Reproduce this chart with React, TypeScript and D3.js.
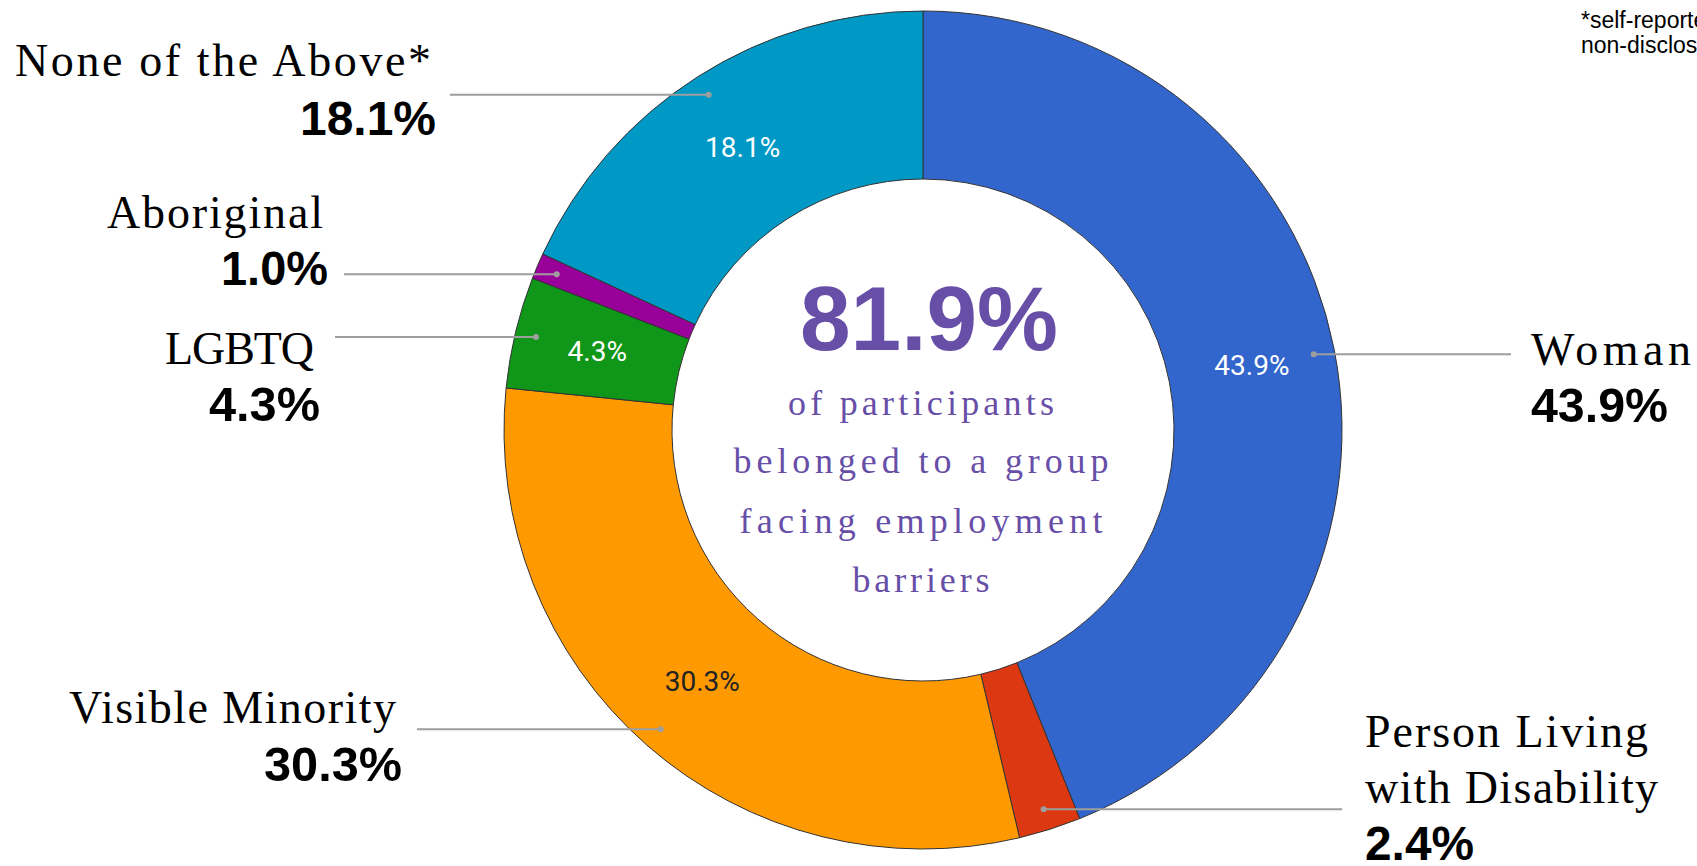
import React from "react";
import * as d3 from "d3";

const categories = ["Woman", "Person Living with Disability", "Visible Minority", "LGBTQ", "Aboriginal", "None of the Above*"];
const values = [43.9, 2.4, 30.3, 4.3, 1.0, 18.1];
const nameLines = [["Woman"], ["Person Living", "with Disability"], ["Visible Minority"], ["LGBTQ"], ["Aboriginal"], ["None of the Above*"]];
const colors = ["#3366cc", "#dc3912", "#ff9900", "#109618", "#990099", "#0099c6"];
const innerLabelColors = ["#ffffff", null, "#222222", "#ffffff", null, "#ffffff"];
const centerValue = "81.9%";
const centerLines = ["of participants", "belonged to a group", "facing employment", "barriers"];
const noteLines = ["*self-reported", "non-disclosure"];

// layout of the external labels (positions only)
type Lay = {
  side: "left" | "right";
  lineEnd: number;
  nameX: number; // left edge for right-side, right edge for left-side
  nameY: number[];
  nameW: number[];
  pctX: number;
  pctY: number;
  pctW: number;
};
const layout: Lay[] = [
  { side: "right", lineEnd: 1511, nameX: 1531, nameY: [365], nameW: [160], pctX: 1531, pctY: 422, pctW: 137 },
  { side: "right", lineEnd: 1342, nameX: 1365, nameY: [747, 803], nameW: [283, 293], pctX: 1365, pctY: 860, pctW: 109 },
  { side: "left", lineEnd: 417, nameX: 396, nameY: [723], nameW: [327], pctX: 402, pctY: 781, pctW: 138 },
  { side: "left", lineEnd: 335, nameX: 314, nameY: [364], nameW: [149], pctX: 320, pctY: 421, pctW: 111 },
  { side: "left", lineEnd: 344, nameX: 323, nameY: [228], nameW: [216], pctX: 328, pctY: 285, pctW: 107 },
  { side: "left", lineEnd: 450, nameX: 431, nameY: [76], nameW: [416], pctX: 436, pctY: 135, pctW: 136 },
];
const centerW = [266, 375, 363, 137];
const centerY = [415, 473, 533, 592];

const W = 1697;
const H = 866;
const cx = 923;
const cy = 430;
const outerR = 419;
const innerR = 251;

export default function App() {
  const pie = d3.pie<number>().sort(null).value((d) => d);
  const arcs = pie(values);
  const arc = d3.arc<d3.PieArcDatum<number>>().innerRadius(innerR).outerRadius(outerR);
  const dotArc = d3.arc<d3.PieArcDatum<number>>().innerRadius(outerR - 21).outerRadius(outerR - 21);
  const serif = "'Liberation Serif', 'Times New Roman', serif";
  const sans = "'Liberation Sans', Arial, sans-serif";
  const purple = "#674ea7";
  return (
    <div style={{ position: "fixed", left: 0, top: 0, width: W, height: H, background: "#fff" }}>
      <svg width={W} height={H} viewBox={`0 0 ${W} ${H}`} style={{ display: "block" }}>
        <rect width={W} height={H} fill="#fff" />
        <g transform={`translate(${cx},${cy})`}>
          {arcs.map((a, i) => (
            <path key={categories[i]} d={arc(a) || ""} fill={colors[i]} stroke="#333" strokeWidth={1} />
          ))}
          {arcs.map((a, i) => {
            const col = innerLabelColors[i];
            if (!col) return null;
            const [x, y] = arc.centroid(a);
            return (
              <text key={"in" + i} x={x} y={y + 9} textAnchor="middle" fontFamily="Roboto, Arial, sans-serif" fontSize={28} fill={col}>
                {d3.format(".1f")(values[i])}%
              </text>
            );
          })}
        </g>
        {arcs.map((a, i) => {
          const [dx, dy] = dotArc.centroid(a);
          const x = cx + dx;
          const y = cy + dy;
          return (
            <g key={"ld" + i}>
              <line x1={x} y1={y} x2={layout[i].lineEnd} y2={y} stroke="#9e9e9e" strokeWidth={2} />
              <circle cx={x} cy={y} r={3} fill="#9e9e9e" />
            </g>
          );
        })}
        {layout.map((l, i) => (
          <g key={"lab" + i}>
            {nameLines[i].map((t, j) => (
              <text
                key={j}
                x={l.side === "right" ? l.nameX : l.nameX - l.nameW[j]}
                y={l.nameY[j]}
                fontFamily={serif}
                fontSize={46}
                fill="#000"
                textLength={l.nameW[j]}
                lengthAdjust="spacing"
              >
                {t}
              </text>
            ))}
            <text
              x={l.side === "right" ? l.pctX : l.pctX - l.pctW}
              y={l.pctY}
              fontFamily={sans}
              fontWeight="bold"
              fontSize={48}
              fill="#000"
              textLength={l.pctW}
              lengthAdjust="spacingAndGlyphs"
            >
              {d3.format(".1f")(values[i])}%
            </text>
          </g>
        ))}
        <text x={929} y={350} textAnchor="middle" fontFamily={sans} fontWeight="bold" fontSize={91} fill={purple}>
          {centerValue}
        </text>
        {centerLines.map((t, j) => (
          <text
            key={j}
            x={921 - centerW[j] / 2}
            y={centerY[j]}
            fontFamily={serif}
            fontSize={36}
            fill={purple}
            textLength={centerW[j]}
            lengthAdjust="spacing"
          >
            {t}
          </text>
        ))}
        {noteLines.map((t, j) => (
          <text key={j} x={1581} y={28 + j * 25} fontFamily={sans} fontSize={23} fill="#000">
            {t}
          </text>
        ))}
      </svg>
    </div>
  );
}
